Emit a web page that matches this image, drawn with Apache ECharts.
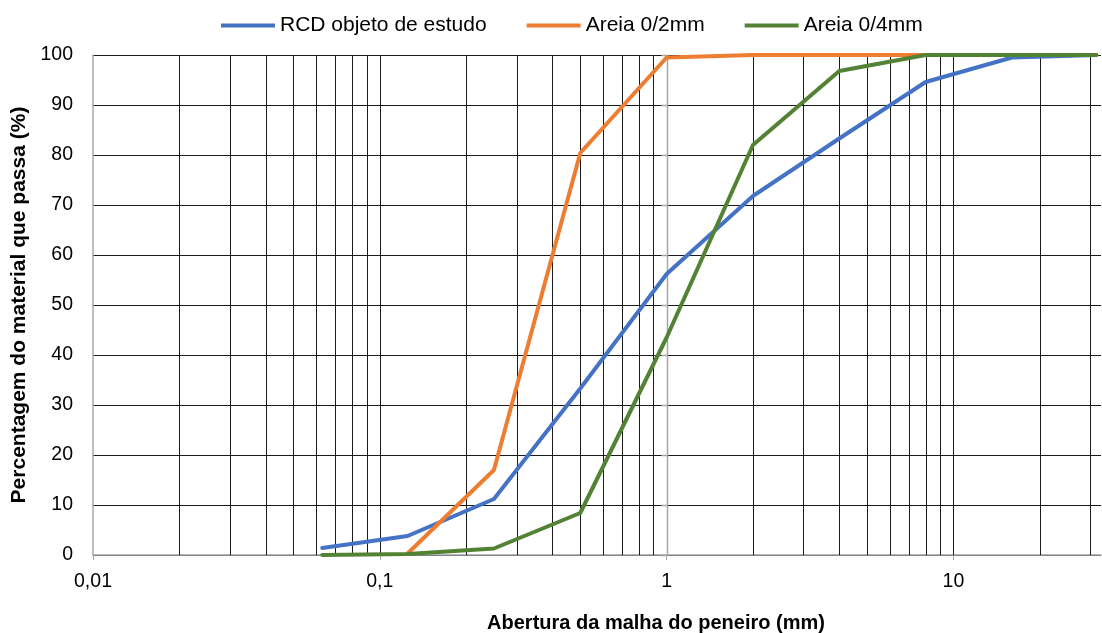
<!DOCTYPE html>
<html>
<head>
<meta charset="utf-8">
<script src="https://cdn.jsdelivr.net/npm/echarts@6/dist/echarts.min.js"></script>
<style>
html,body{margin:0;padding:0;background:#fff;}
#chart{width:1102px;height:633px;}
</style>
</head>
<body>
<div id="chart"></div>
<script>
// Sieve openings (mm)
const SIEVES = [0.063, 0.125, 0.25, 0.5, 1, 2, 4, 8, 16, 31.5];
// Percentage passing (%)
const RCD = [1.4, 3.8, 11.2, 33.3, 56.2, 71.8, 83.3, 94.6, 99.5, 100];
const AREIA_02 = [null, 0.3, 17, 80.4, 99.5, 100, 100, 100, 100, 100];
const AREIA_04 = [0, 0.2, 1.3, 8.4, 43.5, 82, 96.8, 100, 100, 100];
const SERIES_NAMES = ['RCD objeto de estudo', 'Areia 0/2mm', 'Areia 0/4mm'];
// Axis ticks
const X_TICKS = [0.01, 0.1, 1, 10];
const X_MIN = 0.01, X_MAX = 32.7;
const X_CROSS = 1; // vertical axis crosses here
const Y_MIN = 0, Y_MAX = 100, Y_STEP = 10;

// vertical log gridlines (1..9 per decade)
const VGRID = [];
X_TICKS.forEach(d => { for (let m = 1; m <= 9; m++) { const v = +(d * m).toPrecision(6); if (v > X_MIN && v <= X_MAX) VGRID.push(v); } });

function pairs(vals) {
  const out = [];
  vals.forEach((v, i) => { if (v !== null) out.push([SIEVES[i], v]); });
  return out;
}
function fmt(v) { return String(+(+v).toPrecision(6)).replace('.', ','); }

const FONT = '"Liberation Sans", Arial, sans-serif';
const AXIS_GRAY = '#a6a6a6';
const GRID_BLACK = '#1a1a1a';
const chart = echarts.init(document.getElementById('chart'), null, { renderer: 'canvas' });
chart.setOption({
  animation: false,
  backgroundColor: '#fff',
  textStyle: { fontFamily: FONT },
  legend: {
    data: SERIES_NAMES,
    top: 10,
    left: 216,
    icon: 'rect',
    itemWidth: 54,
    itemHeight: 4,
    itemGap: 40,
    textStyle: { fontFamily: FONT, fontSize: 21, color: '#000' }
  },
  grid: { left: 93, right: 1, top: 55, bottom: 78, containLabel: false, outerBoundsMode: 'none' },
  xAxis: {
    type: 'log',
    logBase: 10,
    min: X_MIN,
    max: X_MAX,
    name: 'Abertura da malha do peneiro (mm)',
    nameLocation: 'middle',
    nameGap: 58,
    nameTextStyle: { fontFamily: FONT, fontSize: 20, fontWeight: 'bold', color: '#000', padding: [0, 0, 0, 118] },
    axisLine: { show: true, lineStyle: { color: AXIS_GRAY, width: 1.5 } },
    axisTick: { show: true, length: 5, lineStyle: { color: AXIS_GRAY }, customValues: X_TICKS },
    axisLabel: { fontFamily: FONT, fontSize: 19.5, color: '#000', margin: 17, customValues: X_TICKS, formatter: fmt },
    splitLine: { show: false }
  },
  yAxis: {
    type: 'value',
    min: Y_MIN,
    max: Y_MAX,
    interval: Y_STEP,
    name: 'Percentagem do material que passa (%)',
    nameLocation: 'middle',
    nameGap: 58,
    nameTextStyle: { fontFamily: FONT, fontSize: 21, fontWeight: 'bold', color: '#000' },
    axisLine: { show: true, lineStyle: { color: AXIS_GRAY, width: 1.5 } },
    axisTick: { show: false },
    axisLabel: { fontFamily: FONT, fontSize: 19.5, color: '#000', margin: 20 },
    splitLine: { show: true, lineStyle: { color: GRID_BLACK, width: 1 } }
  },
  series: [
    {
      type: 'custom',
      name: 'vgrid',
      silent: true,
      z: 1,
      data: VGRID.map(v => [v]),
      encode: { x: 0 },
      renderItem: function (params, api) {
        const v = api.value(0);
        const p0 = api.coord([v, Y_MIN]);
        const p1 = api.coord([v, Y_MAX]);
        const x = Math.round(p0[0]) + 0.5;
        const isAxis = Math.abs(v - X_CROSS) < 1e-9;
        if (!isAxis) {
          return {
            type: 'line',
            shape: { x1: x, y1: p0[1], x2: x, y2: p1[1] },
            style: { stroke: GRID_BLACK, lineWidth: 1 }
          };
        }
        const children = [{
          type: 'line',
          shape: { x1: x, y1: p0[1], x2: x, y2: p1[1] },
          style: { stroke: AXIS_GRAY, lineWidth: 1.5 }
        }];
        for (let y = Y_MIN; y <= Y_MAX; y += Y_STEP) {
          const py = Math.round(api.coord([v, y])[1]) + 0.5;
          children.push({
            type: 'line',
            shape: { x1: x - 6, y1: py, x2: x, y2: py },
            style: { stroke: AXIS_GRAY, lineWidth: 1.5 }
          });
        }
        return { type: 'group', children: children };
      }
    },
    {
      name: SERIES_NAMES[0], type: 'line', z: 3, data: pairs(RCD),
      showSymbol: false, symbol: 'none', color: '#4472C4',
      lineStyle: { width: 4, color: '#4472C4', cap: 'round', join: 'round' }
    },
    {
      name: SERIES_NAMES[1], type: 'line', z: 4, data: pairs(AREIA_02),
      showSymbol: false, symbol: 'none', color: '#ED7D31',
      lineStyle: { width: 4, color: '#ED7D31', cap: 'round', join: 'round' }
    },
    {
      name: SERIES_NAMES[2], type: 'line', z: 5, data: pairs(AREIA_04),
      showSymbol: false, symbol: 'none', color: '#548235',
      lineStyle: { width: 4, color: '#548235', cap: 'round', join: 'round' }
    }
  ]
});
</script>
</body>
</html>
